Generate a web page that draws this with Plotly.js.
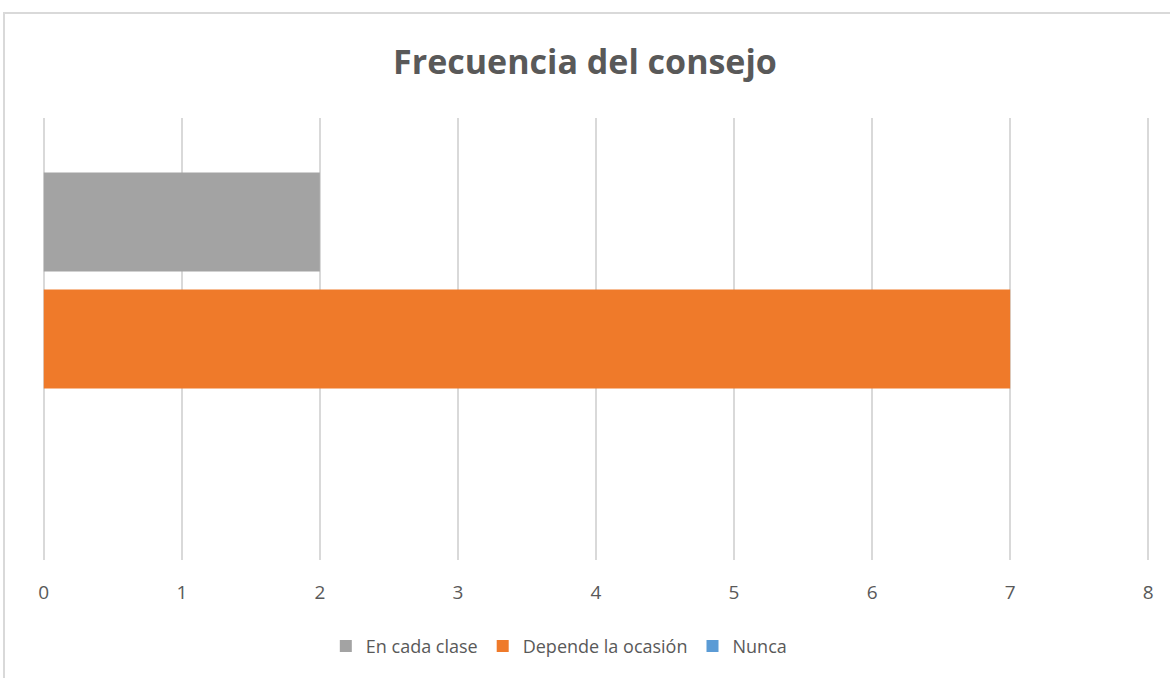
<!DOCTYPE html>
<html>
<head>
<meta charset="utf-8">
<script src="https://cdn.plot.ly/plotly-3.0.1.min.js"></script>
<style>
  html, body { margin: 0; padding: 0; background: #fff; overflow: hidden; }
  #frame { position: absolute; left: 3px; top: 12px; width: 1200px; height: 700px;
           border: 2px solid #d9d9d9; box-sizing: border-box; pointer-events: none; z-index: 5; }
  #chart { position: absolute; left: 0; top: 0; width: 1170px; height: 678px; }
</style>
</head>
<body>
<div id="chart"></div>
<div id="frame"></div>
<script>
// Data
const category = ["Frecuencia"];
const seriesNames = ["Nunca", "Depende la ocasión", "En cada clase"];
const nunca = [0];
const dependeLaOcasion = [7];
const enCadaClase = [2];
const xTicks = [0, 1, 2, 3, 4, 5, 6, 7, 8];
const title = "Frecuencia del consejo";

const colors = ["#5b9bd5", "#ef7a2a", "#a3a3a3"];
const values = [nunca, dependeLaOcasion, enCadaClase];

const traces = seriesNames.map((name, i) => ({
  type: "bar",
  orientation: "h",
  name: name,
  y: category,
  x: values[i],
  marker: { color: colors[i], line: { width: 0 } },
  hoverinfo: "x+name"
}));

const layout = {
  width: 1170,
  height: 678,
  paper_bgcolor: "#ffffff",
  plot_bgcolor: "#ffffff",
  margin: { l: 41, r: 19, t: 118, b: 118 },
  title: {
    text: "<b>" + title + "</b>",
    font: { family: "Open Sans, Calibri, sans-serif", size: 34, color: "#595959" },
    x: 0.5, xanchor: "center",
    y: 1 - 62 / 678, yanchor: "middle", yref: "container"
  },
  barmode: "group",
  bargap: 0.206,
  bargroupgap: 0.154,
  showlegend: true,
  legend: {
    orientation: "h",
    traceorder: "reversed",
    x: 0.4665, xanchor: "center",
    y: -0.195, yanchor: "middle",
    font: { family: "Open Sans, Calibri, sans-serif", size: 18, color: "#595959" },
    itemwidth: 30
  },
  xaxis: {
    range: [-0.02, 8.02],
    tickvals: xTicks,
    ticktext: xTicks.map(String),
    showgrid: true,
    gridcolor: "#d9d9d9",
    gridwidth: 1.5,
    zeroline: false,
    showline: false,
    ticks: "outside",
    ticklen: 15,
    tickcolor: "rgba(0,0,0,0)",
    tickfont: { family: "Open Sans, Calibri, sans-serif", size: 19, color: "#595959" },
    fixedrange: true
  },
  yaxis: {
    showticklabels: false,
    showgrid: false,
    zeroline: false,
    showline: false,
    ticks: "",
    fixedrange: true
  }
};

Plotly.newPlot("chart", traces, layout, { displayModeBar: false, staticPlot: true });
</script>
</body>
</html>
